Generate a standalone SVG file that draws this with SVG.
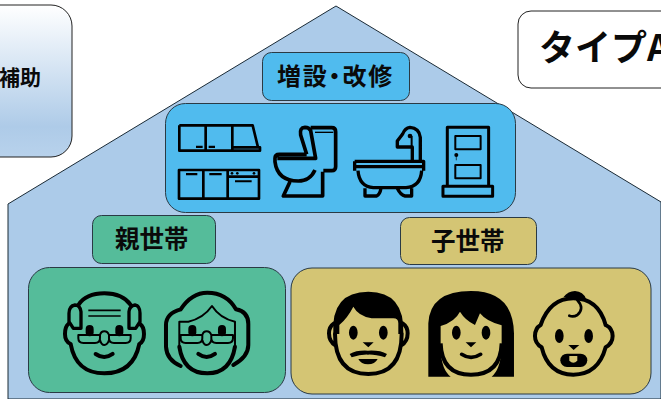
<svg xmlns="http://www.w3.org/2000/svg" width="661" height="399" viewBox="0 0 661 399">
<style>
.b{stroke:#2a3a44;stroke-width:1}
.t{font-family:"Noto Sans CJK JP","Noto Sans",sans-serif;font-weight:700;fill:#0a0a0a}
.i{fill:none;stroke:#000;stroke-linejoin:round}
.f{fill:#000;stroke:none}
</style>
<defs>
<linearGradient id="g" x1="0" y1="0" x2="0" y2="1"><stop offset="0" stop-color="#fff"/><stop offset="0.8" stop-color="#aecbe8"/><stop offset="1" stop-color="#b8d2ec"/></linearGradient>
</defs>
<g id="house"><path d="M336,6 L8,204 V399 H661 V202 Z" fill="#accbe9" stroke="#1a2a35" stroke-width="1"/></g>
<g id="subsidy"><rect x="-30" y="5" width="102" height="152" rx="21" fill="url(#g)" stroke="#222" stroke-width="1"/><text class="t" x="-1" y="85" font-size="21">補助</text></g>
<g id="type"><rect x="518" y="11" width="190" height="77" rx="13" fill="#fff" stroke="#222" stroke-width="1"/><text class="t" x="539" y="61" font-size="36">タイプA</text></g>
<g id="reno-label"><rect class="b" x="262.500" y="52.500" width="147" height="48" rx="9" fill="#50bbee"/><text class="t" font-size="24" x="277" y="85" style="font-feature-settings:'palt'" letter-spacing="1.800">増設・改修</text></g>
<g id="reno"><rect class="b" x="165.500" y="103.500" width="350" height="109" rx="20" fill="#50bbee"/>
<g transform="translate(160,40) scale(0.3333)">
<path class="i" stroke-width="8" d="M58,256H278L294,322M58,256V332H300V322H217M137,256V330M217,256V330"/>
<path class="f" d="M108,317H128V324H108ZM146,317H165V324H146Z"/>
<path class="i" stroke-width="8" d="M57,390H297V476H57ZM130,390V476M203,390V476M203,410H297"/>
<path class="f" d="M78,399H112V406H78ZM148,399H185V406H148ZM225,421H275V427H225Z"/>
<circle class="f" cx="216" cy="400" r="4"/><circle class="f" cx="232" cy="400" r="4"/><circle class="f" cx="282" cy="400" r="4"/>
<path class="i" stroke-width="11" d="M440,343L422,285Q418,263 435,262Q447,262 452,272L467,355H352M452,263H515Q527,263 527,275V380Q527,392 515,392H490M440,343H358Q345,343 345,355V365Q352,422 415,423Q450,423 465,390M390,425L370,468H488V395"/>
<path class="i" stroke-width="4" d="M465,277H520"/>
<path class="i" stroke-width="10" d="M584,364H791V392M584,364V392M584,380H791M594,392Q598,440 640,443H738Q782,440 785,392M615,445V468H650Q660,464 663,445M712,445Q722,466 735,468H755V445"/>
<path class="i" stroke-width="10" d="M781,364V292Q778,264 750,262Q735,264 728,282L712,303V321H757V364"/>
<circle class="f" cx="750" cy="288" r="7"/><path class="i" stroke-width="6" d="M755,288V321"/>
<path class="i" stroke-width="9" d="M862,442V262H986V442M849,439H998V469H849Z"/>
<path class="i" stroke-width="6" d="M886,288H962V328H886ZM886,375H962V415H886Z"/>
<circle class="f" cx="889" cy="345" r="6"/><path class="i" stroke-width="2" d="M889,345V361"/>
</g></g>
<g id="parent-label"><rect class="b" x="92.500" y="215.500" width="123" height="48" rx="9" fill="#55bc9a"/><text class="t" x="115" y="248" font-size="24.500">親世帯</text></g>
<g id="parents"><rect class="b" x="28.500" y="267.500" width="257" height="125" rx="21" fill="#55bc9a"/>
<g transform="translate(20,210) scale(0.3333)">
<path class="i" stroke-width="12" stroke-linecap="round" d="M175,285Q198,250 253,250Q308,250 332,285M152,402Q168,490 253,490Q340,490 358,402M145,342Q135,350 135,372Q135,395 152,402M360,342Q372,350 372,372Q372,395 358,402"/>
<path class="i" stroke-width="10" d="M165,285Q147,288 147,310V335L160,355H183V305Q180,285 165,285ZM345,285Q328,288 327,305V355H347L360,335V310Q360,288 345,285Z"/>
<path class="i" stroke-width="5" d="M205,301H302M205,318H302"/>
<rect class="f" x="197" y="345" width="24" height="34" rx="12"/><rect class="f" x="286" y="345" width="24" height="34" rx="12"/>
<path class="i" stroke-width="6" d="M175,375H240V385Q240,399 225,399H190Q175,399 175,385ZM267,375H332V385Q332,399 317,399H282Q267,399 267,385ZM240,385V375Q243,364 253,364Q263,364 267,375V390Q262,405 253,405Q244,405 240,390"/>
<path class="i" stroke-width="12" stroke-linecap="round" d="M227,432Q253,450 278,432"/>
<path class="i" stroke-width="12" stroke-linecap="round" d="M482,298Q515,248 562,248Q620,248 648,298Q685,305 685,342V405Q685,440 640,465M482,298Q438,310 438,345V410Q440,450 482,468M478,410Q490,490 562,490Q632,490 645,410"/>
<path class="i" stroke-width="6" d="M478,410V335H505Q550,325 576,288Q600,325 645,335V410"/>
<rect class="f" x="505" y="345" width="24" height="34" rx="12"/><rect class="f" x="594" y="345" width="24" height="34" rx="12"/>
<path class="i" stroke-width="6" d="M482,375H547V385Q547,399 532,399H497Q482,399 482,385ZM574,375H639V385Q639,399 624,399H589Q574,399 574,385ZM547,385V375Q550,364 560,364Q570,364 574,375V390Q569,405 560,405Q551,405 547,390"/>
<path class="i" stroke-width="12" stroke-linecap="round" d="M535,432Q560,450 585,432"/>
</g></g>
<g id="child-label"><rect class="b" x="400.500" y="217.500" width="136" height="47" rx="9" fill="#d4c574"/><text class="t" x="431" y="250" font-size="24.500">子世帯</text></g>
<g id="children"><rect class="b" x="291" y="268" width="360" height="126" rx="21" fill="#d4c574"/>
<g transform="translate(290,210) scale(0.3333)">
<path class="f" d="M130,372Q122,245 235,245Q345,245 340,372H325V340Q325,325 310,325H245Q205,318 190,290Q172,325 148,345V372Z"/>
<path class="i" stroke-width="12" stroke-linecap="round" d="M135,372Q135,492 235,492Q335,492 335,372M132,340Q117,350 117,370Q117,395 137,407M338,340Q353,350 353,370Q353,395 333,407"/>
<ellipse class="f" cx="190" cy="368" rx="13" ry="21"/><ellipse class="f" cx="280" cy="368" rx="13" ry="21"/>
<path class="f" d="M218,397H251L235,412ZM179,432Q200,420 234,422Q270,420 291,432L285,442Q255,433 234,434Q212,433 185,442ZM205,447H263Q255,463 234,463Q213,463 205,447Z"/>
<path class="f" d="M415,500V340Q420,243 543,243Q670,243 672,370V500H605Q630,480 635,420V346Q590,335 570,310L555,345Q525,330 510,305Q495,335 452,348V420Q455,480 482,500Z"/>
<path class="i" stroke-width="12" d="M452,400Q455,494 543,494Q632,494 635,400"/>
<ellipse class="f" cx="499" cy="368" rx="13" ry="21"/><ellipse class="f" cx="588" cy="368" rx="13" ry="21"/>
<path class="f" d="M527,397H559L543,412Z"/>
<path class="i" stroke-width="11" stroke-linecap="round" d="M515,433Q543,452 572,433"/>
<path class="f" d="M820,262Q835,243 855,243Q880,245 888,266L850,262Z"/>
<path class="i" stroke-width="12" stroke-linecap="round" d="M752,345Q780,265 850,265Q925,265 947,345M752,345Q735,355 735,378Q735,400 755,412M947,345Q968,355 968,378Q968,400 947,412M755,412Q775,494 850,494Q925,494 947,412"/>
<path class="i" stroke-width="8" stroke-linecap="round" d="M862,270Q885,295 862,315Q850,322 838,317"/>
<ellipse class="f" cx="808" cy="378" rx="13" ry="21"/><ellipse class="f" cx="896" cy="378" rx="13" ry="21"/>
<path class="f" d="M835,405H868L851,420Z"/>
<rect class="f" x="811" y="431" width="81" height="40" rx="20"/>
<path d="M838,438V452Q850,464 862,452V438Z" fill="#d4c574"/>
</g></g>
</svg>
